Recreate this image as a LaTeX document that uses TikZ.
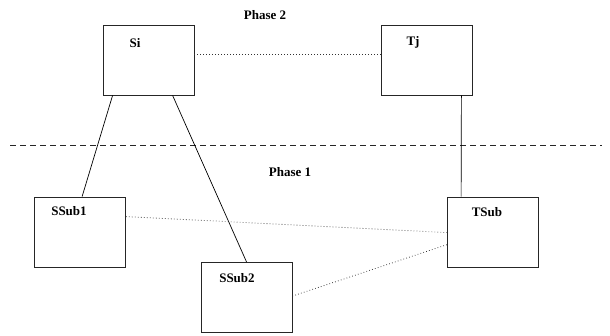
\documentclass[tikz,border=0pt]{standalone}
\usepackage{fontspec}
\setmainfont{Liberation Serif}
\begin{document}
\begin{tikzpicture}[x=1pt,y=-1pt,
  box/.style={draw=black!85,line width=0.8pt,rectangle,minimum width=91pt,minimum height=70pt,inner sep=0pt},
  lbl/.style={font=\bfseries\fontsize{13}{15}\selectfont,inner sep=0pt},
  solidline/.style={draw=black,line width=0.7pt},
  dotline/.style={draw=black!80,line width=0.8pt,dash pattern=on 0.7pt off 2.3pt},
  sepline/.style={draw=black!85,line width=0.7pt,dash pattern=on 6pt off 4pt}]
\useasboundingbox (0,0) rectangle (610,336);
\node[box] (Si) at (148.5,60) {};
\node[box] (Tj) at (426.5,60) {};
\node[box] (SSub1) at (80,232) {};
\node[box] (SSub2) at (246.5,297.5) {};
\node[box] (TSub) at (493,232) {};
\node[lbl] (lSi) at (135,43) {Si};
\node[lbl] (lTj) at (413,42) {Tj};
\node[lbl] (lSSub1) at (69,211) {SSub1};
\node[lbl] (lSSub2) at (237,278) {SSub2};
\node[lbl] (lTSub) at (487,212) {TSub};
\node[lbl] (p2) at (265,15) {Phase 2};
\node[lbl] (p1) at (290,172) {Phase 1};
\coordinate (sepL) at (10,145);
\coordinate (sepR) at (602,145);
\draw[sepline] (sepL) -- (sepR);
\draw[dotline] (Si.east |- 0,54) -- (Tj.west |- 0,54);
\draw[solidline] ([xshift=10pt]Si.south west) -- ([xshift=48pt]SSub1.north west);
\draw[solidline] ([xshift=70pt]Si.south west) -- ([xshift=46pt]SSub2.north west);
\draw[solidline] ([xshift=-11pt]Tj.south east) -- ([xshift=14pt]TSub.north west);
\draw[dotline] ([yshift=-20pt]SSub1.north east) -- ([yshift=-36pt]TSub.north west);
\draw[dotline] ([yshift=-34pt]SSub2.north east) -- ([yshift=-48pt]TSub.north west);
\end{tikzpicture}
\end{document}
